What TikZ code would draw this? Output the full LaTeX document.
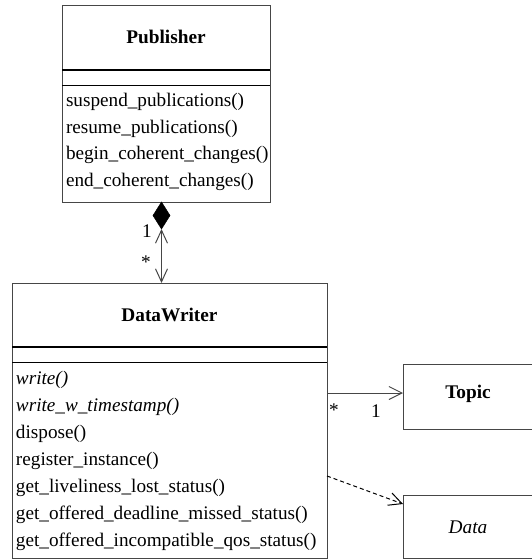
\documentclass[tikz,border=0pt]{standalone}
\usepackage{fontspec}
\setmainfont{Liberation Serif}
\usetikzlibrary{arrows.meta,shapes.geometric}
\definecolor{bordergray}{RGB}{70,70,70}
\begin{document}
\begin{tikzpicture}[x=1pt,y=-1pt,
  every node/.style={inner sep=0pt, outer sep=0pt},
  classbox/.style={draw=bordergray, line width=1pt, anchor=north west},
  divider/.style={draw=black, line width=1.2pt},
  thindivider/.style={draw=black, line width=0.8pt},
  titletext/.style={font=\fontsize{19.3}{23}\selectfont\bfseries},
  methodtext/.style={font=\fontsize{19.2}{23}\selectfont, anchor=west},
  multtext/.style={font=\fontsize{19.3}{23}\selectfont},
  assoc/.style={draw=bordergray, line width=1pt},
  opentip/.style={-{Straight Barb[length=13pt,width=13pt,line width=1pt]}},
  bothtips/.style={{Straight Barb[length=13pt,width=12pt,line width=1pt]}-{Straight Barb[length=13pt,width=12pt,line width=1pt]}}
]
\useasboundingbox (0,0) rectangle (532,560);

% Publisher
\node[classbox, minimum width=208pt, minimum height=197pt] (pub) at (62,5) {};
\draw[divider] (62,70) -- (270,70);
\draw[thindivider] (62,85) -- (270,85);
\node[titletext] (pubtitle) at (166,37) {Publisher};
\node[methodtext] (p1) at (66,102) {suspend\_publications()};
\node[methodtext] (p2) at (66,128.5) {resume\_publications()};
\node[methodtext] (p3) at (66,155) {begin\_coherent\_changes()};
\node[methodtext] (p4) at (66,181.5) {end\_coherent\_changes()};

% DataWriter
\node[classbox, minimum width=315pt, minimum height=275pt] (dw) at (12,283) {};
\draw[divider] (12,347) -- (327,347);
\draw[thindivider] (12,362) -- (327,362);
\node[titletext] (dwtitle) at (169.5,315) {DataWriter};
\node[methodtext] (d1) at (16,380) {\itshape write()};
\node[methodtext] (d2) at (16,407) {\itshape write\_w\_timestamp()};
\node[methodtext] (d3) at (16,434) {dispose()};
\node[methodtext] (d4) at (16,461) {register\_instance()};
\node[methodtext] (d5) at (16,488) {get\_liveliness\_lost\_status()};
\node[methodtext] (d6) at (16,515) {get\_offered\_deadline\_missed\_status()};
\node[methodtext] (d7) at (16,542) {get\_offered\_incompatible\_qos\_status()};

% Topic and Data
\node[classbox, minimum width=131pt, minimum height=65pt] (topic) at (403,364) {};
\node[titletext] (topictitle) at (468,394) {Topic};
\node[classbox, minimum width=131pt, minimum height=63pt] (data) at (403,495) {};
\node[multtext, font=\fontsize{19.3}{23}\selectfont\itshape] (datatitle) at (468,527) {Data};

% composition Publisher -> DataWriter
\node[diamond, fill=black, draw=black, line width=0.5pt, minimum width=17pt, minimum height=27pt, aspect=0.63] (dia) at (161.5,215.5) {};
\draw[assoc, bothtips] (dia.south) -- (dia.south |- dw.north);
\node[multtext] (m1) at (147,231) {1};
\node[multtext] (m2) at (146,262) {*};

% association DataWriter -> Topic
\coordinate (ta) at (327,393);
\coordinate (tb) at (403,393);
\draw[assoc, opentip] (ta) -- (tb);
\node[multtext] (m3) at (334,410) {*};
\node[multtext] (m4) at (376,411) {1};

% dependency DataWriter -> Data
\coordinate (da) at (327,476);
\coordinate (db) at (403,504);
\draw[assoc, opentip, draw=black, dash pattern=on 4pt off 3pt] (da) -- (db);
\end{tikzpicture}
\end{document}
